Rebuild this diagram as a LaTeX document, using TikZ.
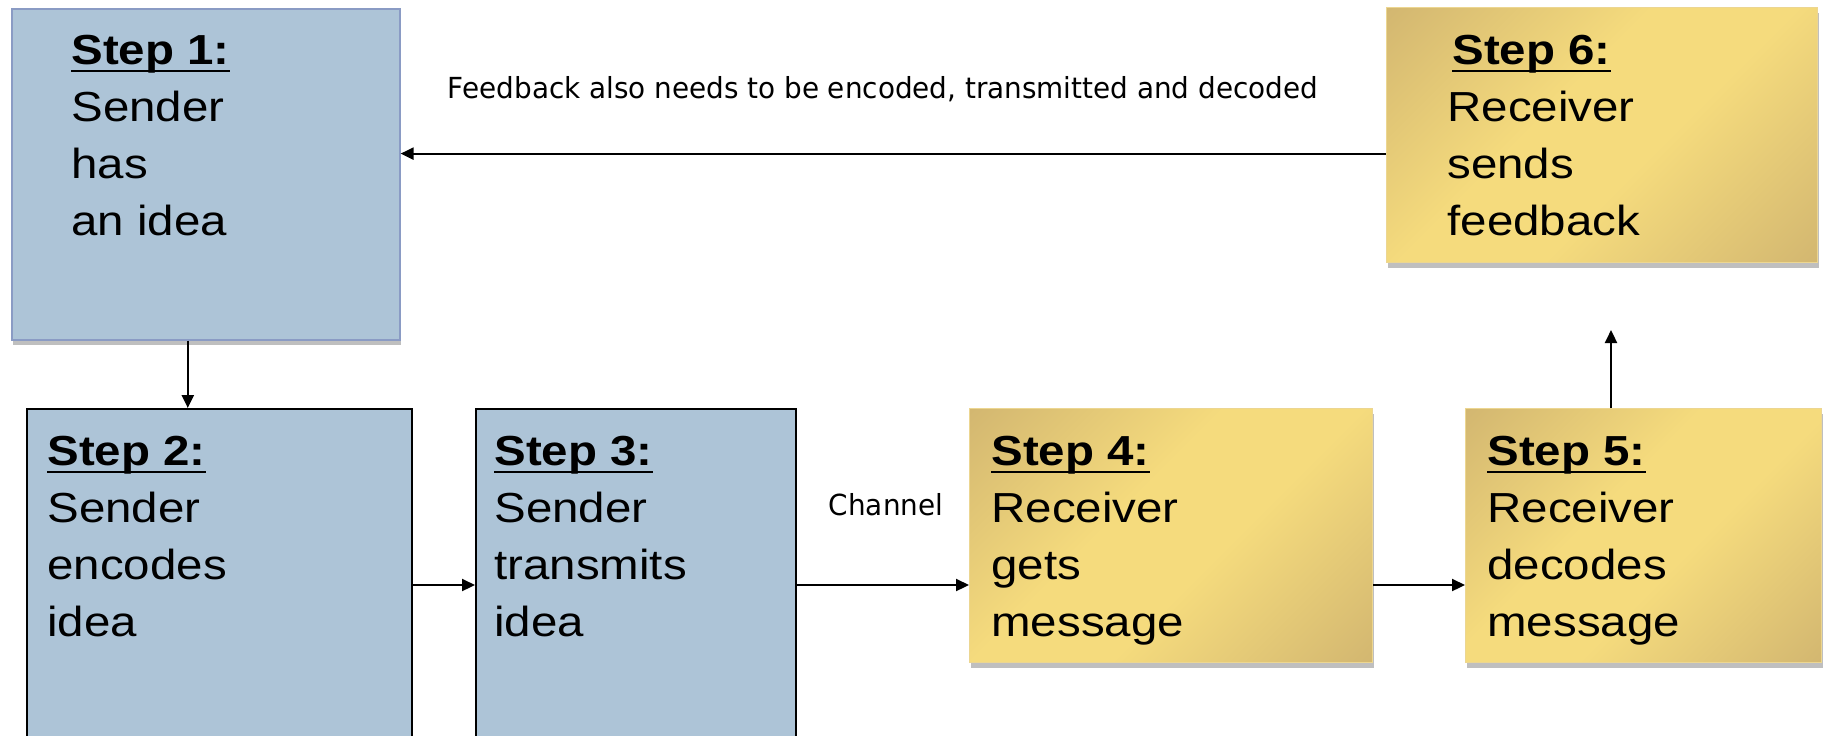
\documentclass[tikz,border=0pt]{standalone}
\usepackage{fontspec}
\setmainfont{Liberation Sans}[FakeStretch=1.13]
\newfontfamily\labelfont[FakeStretch=0.96]{DejaVu Sans}
\usetikzlibrary{positioning, arrows.meta, shadows}
\definecolor{sblue}{RGB}{173,196,215}
\definecolor{sblueline}{RGB}{138,155,196}
\definecolor{golddark}{RGB}{210,182,112}
\definecolor{goldlight}{RGB}{245,219,125}
\definecolor{goldline}{RGB}{236,214,145}
\pgfdeclarehorizontalshading{goldsheen}{100bp}{color(0bp)=(golddark); color(14bp)=(golddark); color(42bp)=(goldlight); color(57bp)=(goldlight); color(86bp)=(golddark); color(100bp)=(golddark)}
\newcommand{\steptitle}[1]{\setbox0\hbox{\bfseries #1}\rlap{\rule[-3.4pt]{\wd0}{1pt}}\box0}

\begin{document}
\begin{tikzpicture}[x=0.5pt, y=-0.5pt,
        stepbox/.style={anchor=north west, inner sep=0pt},
        senderbox/.style={stepbox, fill=sblue, draw=black, line width=1pt},
        receiverbox/.style={stepbox, shading=goldsheen, shading angle=-45, draw=goldline, line width=0.6pt,
            drop shadow={shadow xshift=0.5pt, shadow yshift=-2.5pt, opacity=0.25, fill=black}},
        steptext/.style={anchor=north west, inner sep=0pt, align=left, font=\fontsize{21}{28.5}\selectfont},
        labeltext/.style={anchor=base, inner sep=0pt, font=\labelfont\fontsize{14.5}{17}\selectfont},
        arr/.style={-{Triangle[length=6.5pt,width=6pt]}, line width=1.1pt}]
    \useasboundingbox (0,0) rectangle (1826,735);
    \fill[white] (0,0) rectangle (1826,735);
    \clip (0,0) rectangle (1826,735);

    % sender side
    \node[stepbox, fill=sblue, draw=sblueline, line width=0.8pt,
        drop shadow={shadow xshift=0.5pt, shadow yshift=-2.5pt, opacity=0.25, fill=black},
        minimum width=194pt, minimum height=165.5pt] (s1) at (11,8) {};
    \node[senderbox, minimum width=192.5pt, minimum height=176pt] (s2) at (26,408) {};
    \node[senderbox, minimum width=160pt, minimum height=176pt] (s3) at (475,408) {};

    % receiver side
    \node[receiverbox, minimum width=201.5pt, minimum height=127pt] (s4) at (969,408) {};
    \node[receiverbox, minimum width=178pt, minimum height=127pt] (s5) at (1465,408) {};
    \node[receiverbox, minimum width=215.5pt, minimum height=127.5pt] (s6) at (1386,7) {};

    % texts
    \node[steptext] (t1) at (71,35) {\steptitle{Step 1:}\\Sender\\has\\an idea};
    \node[steptext] (t2) at (47,436) {\steptitle{Step 2:}\\Sender\\encodes\\idea};
    \node[steptext] (t3) at (494,436) {\steptitle{Step 3:}\\Sender\\transmits\\idea};
    \node[steptext] (t4) at (991,436) {\steptitle{Step 4:}\\Receiver\\gets\\message};
    \node[steptext] (t5) at (1487,436) {\steptitle{Step 5:}\\Receiver\\decodes\\message};
    \node[steptext] (t6) at (1447,35) {\hspace*{2.5pt}\steptitle{Step 6:}\\Receiver\\sends\\feedback};

    \node[labeltext] (feedback) at (883,98) {Feedback also needs to be encoded, transmitted and decoded};
    \node[labeltext] (channel) at (886,515) {Channel};

    % connectors
    \coordinate (up) at (1611,330);
    \draw[arr] ([xshift=-9pt]s1.south) -- ([xshift=-9pt]s1.south |- s2.north);
    \draw[arr] (s2.east) -- (s3.west);
    \draw[arr] (s3.east) -- (s3.east -| s4.west);
    \draw[arr] (s3.east -| s4.east) -- (s3.east -| s5.west);
    \draw[arr] (up |- s5.north) -- (up);
    \draw[arr] ([yshift=-9.25pt]s6.west) -- ([yshift=-9.25pt]s6.west -| s1.east);
\end{tikzpicture}
\end{document}
